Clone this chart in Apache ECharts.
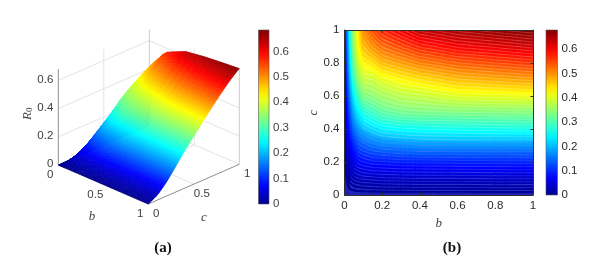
<!DOCTYPE html>
<html><head><meta charset="utf-8">
<style>html,body{margin:0;padding:0;background:#fff}#c{width:601px;height:266px}</style>
<script src="https://cdn.jsdelivr.net/npm/echarts@6/dist/echarts.min.js"></script>
</head><body><div id="c"></div>
<script>
// values: R0 at (b, c)
const bValues=[0,.01,.02,.03,.05,.07,.1,.15,.2,.3,.4,.6,.8,1];
const cValues=[0,.1,.2,.3,.4,.5,.6,.7,.8,.9,1];
const rowC00=[0,0,0,0,0,0,0,0,0,0,0,0,0,0];
const rowC01=[0,.006,.012,.018,.024,.027,.03,.032,.034,.035,.036,.036,.037,.037];
const rowC02=[0,.015,.027,.04,.06,.072,.08,.088,.09,.095,.096,.098,.099,.10];
const rowC03=[0,.025,.047,.07,.10,.125,.14,.155,.165,.172,.178,.18,.18,.18];
const rowC04=[0,.037,.07,.10,.15,.18,.205,.225,.24,.25,.255,.26,.263,.265];
const rowC05=[0,.048,.09,.13,.195,.235,.27,.29,.31,.325,.33,.335,.338,.34];
const rowC06=[0,.06,.11,.16,.24,.29,.335,.345,.36,.378,.385,.405,.41,.415];
const rowC07=[0,.07,.13,.19,.285,.34,.385,.39,.41,.43,.445,.47,.48,.49];
const rowC08=[0,.08,.15,.215,.32,.38,.43,.445,.47,.49,.51,.535,.548,.56];
const rowC09=[0,.09,.165,.235,.345,.41,.47,.50,.525,.55,.575,.60,.612,.625];
const rowC10=[0,.10,.18,.25,.355,.43,.50,.545,.575,.605,.635,.655,.668,.68];
const zRows=[rowC00,rowC01,rowC02,rowC03,rowC04,rowC05,rowC06,rowC07,rowC08,rowC09,rowC10];
const zTicks3d=[0,.2,.4,.6], bTicks3d=[0,.5,1], cTicks3d=[0,.5,1];
const barMaxA=.684, barMaxB=.679;
const stripeStepC=.018;

const jetStops=[[0,[0,0,143]],[.11,[0,0,255]],[.365,[0,255,255]],[.625,[255,255,0]],[.875,[255,0,0]],[1,[128,0,0]]];
function jetRGB(t){t=Math.max(0,Math.min(1,t));
  for(let i=1;i<jetStops.length;i++){if(t<=jetStops[i][0]){const a=jetStops[i-1],b=jetStops[i],f=(t-a[0])/(b[0]-a[0]);
    return a[1].map((v,k)=>Math.round(v+(b[1][k]-v)*f));}}
  return [128,0,0];}
const zColor=z=>'rgb('+jetRGB(z/.68).join(',')+')';
const paleTarget=[90,110,255];
const zPale=z=>{const m=z<.2?.3:.18,t=z<.2?paleTarget:[255,255,255];return 'rgb('+jetRGB(z/.68).map((v,k)=>Math.round(v+(t[k]-v)*m)).join(',')+')';};
function colAt(i,v){const n=cValues.length-1,j=Math.min(Math.floor(v),n-1),t=v-j;
  const p1=zRows[j][i],p2=zRows[j+1][i],p0=j>0?zRows[j-1][i]:2*p1-p2,p3=j<n-1?zRows[j+2][i]:2*p2-p1;
  return Math.max(0,.5*(2*p1+(p2-p0)*t+(2*p0-5*p1+4*p2-p3)*t*t+(3*p1-p0-3*p2+p3)*t*t*t));}
function zAt(u,v){const i=Math.min(Math.floor(u),bValues.length-2),f=u-i;return (1-f)*colAt(i,v)+f*colAt(i+1,v);}
function bAt(u){const i=Math.min(Math.floor(u),bValues.length-2);return bValues[i]+(u-i)*(bValues[i+1]-bValues[i]);}
function cAt(v){const j=Math.min(Math.floor(v),cValues.length-2);return cValues[j]+(v-j)*(cValues[j+1]-cValues[j]);}
// 3D view
function proj(b,c,z){return [0.3+90*b+91*c,137+39*b-39.7*c-141*z];}

// surface patches, far to near
const surfaceCells=[];const SU=3,SV=8;
for(let i=0;i<(bValues.length-1)*SU;i++)for(let j=(cValues.length-1)*SV-1;j>=0;j--)surfaceCells.push([i/SU,j/SV,(i+1)/SU,(j+1)/SV]);
// contour levels: evenly spaced along the b = 1 edge, as the stripes are in the picture
const levels=[];for(let c=stripeStepC;c<1;c+=stripeStepC)levels.push(zAt(bValues.length-1,c*(cValues.length-1)));
function segs(L){const out=[];const S=4;
  const nu=(bValues.length-1)*S,nv=(cValues.length-1)*S;
  for(let i=0;i<nu;i++)for(let j=0;j<nv;j++){
    const u0=i/S,u1=(i+1)/S,v0=j/S,v1=(j+1)/S;
    const c=[[u0,v0],[u1,v0],[u1,v1],[u0,v1]].map(p=>[bAt(p[0]),cAt(p[1]),zAt(p[0],p[1])]);
    const pts=[];
    for(let e=0;e<4;e++){const a=c[e],d=c[(e+1)%4];
      if((a[2]<L)!==(d[2]<L)){const f=(L-a[2])/(d[2]-a[2]);pts.push([a[0]+f*(d[0]-a[0]),a[1]+f*(d[1]-a[1])]);}}
    if(pts.length>=2)out.push([pts[0],pts[1]]);
    if(pts.length===4)out.push([pts[2],pts[3]]);
  }
  return out;}

// wire frame of the 3D box
const wire=[];
const W=(a,b,col,w)=>wire.push({a,b,col,w});
const G='#e4e4e4';
[.2,.4,.6].forEach(z=>{W([0,0,z],[0,1,z],G,1);W([0,1,z],[1,1,z],G,1);});
W([0,.5,0],[0,.5,.68],G,1);W([.5,1,0],[.5,1,.68],G,1);
W([0,.5,0],[1,.5,0],G,1);W([.5,0,0],[.5,1,0],G,1);
W([0,1,0],[0,0,0],G,1);W([0,1,0],[1,1,0],G,1);
W([0,1,0],[0,1,.68],'#cccccc',1);W([1,1,0],[1,1,.68],'#cccccc',1);
W([0,0,0],[0,0,.68],'#909090',1);W([1,0,0],[1,1,0],'#909090',1);W([0,0,0],[1,0,0],'#909090',1);

const texts=[];
zTicks3d.forEach(z=>{const p=proj(0,0,z);texts.push({x:p[0]-5,y:p[1]-1,t:String(z),a:'right'});});
bTicks3d.forEach(b=>{const p=proj(b,0,0);texts.push({x:p[0]-8,y:p[1]+10,t:String(b),a:'center'});});
cTicks3d.forEach(c=>{const p=proj(1,c,0);texts.push({x:p[0]+8,y:p[1]+10,t:String(c),a:'center'});});

const tickFont='Liberation Sans';
const A={left:58,top:28,w:182,h:177};
const serif={fontFamily:'Liberation Serif',fontStyle:'italic',fontSize:13,color:'#444'};
function sideAxis(idx,pos,max,show,interval){return {gridIndex:idx,type:'value',position:pos,min:0,max,interval,z:5,
  axisLine:{show:true,onZero:false,lineStyle:{color:'#303030',width:1}},
  axisTick:{show:true,inside:true,length:2.5,lineStyle:{color:'#303030'}},
  splitLine:{show:false},
  axisLabel:{show,fontFamily:tickFont,fontSize:11.5,color:'#2a2a2a',margin:5,showMaxLabel:true,formatter:v=>String(v)}};}

const option={animation:false,backgroundColor:'#fff',
 grid:[
  {left:A.left,top:A.top,width:A.w,height:A.h},
  {left:258.5,top:30,width:10.5,height:174},
  {left:344.5,top:30,width:188.5,height:165},
  {left:546,top:30,width:11.5,height:165}],
 xAxis:[
  {gridIndex:0,type:'value',min:0,max:A.w,show:false},
  {gridIndex:1,type:'value',min:0,max:1,show:false},
  Object.assign(sideAxis(2,'bottom',1,true,.2),{name:'b',nameLocation:'middle',nameGap:17,nameTextStyle:serif}),
  sideAxis(2,'top',1,false,.2),
  {gridIndex:3,type:'value',min:0,max:1,show:false}],
 yAxis:[
  {gridIndex:0,type:'value',min:0,max:A.h,inverse:true,show:false},
  Object.assign(sideAxis(1,'right',barMaxA,true,.1),{axisLabel:{fontFamily:tickFont,fontSize:11.5,color:'#404040',margin:4,formatter:v=>v>.65?'':String(v)},axisLine:{show:false},axisTick:{show:false}}),
  Object.assign(sideAxis(2,'left',1,true,.2),{name:'c',nameLocation:'middle',nameGap:22,nameRotate:90,nameTextStyle:serif}),
  sideAxis(2,'right',1,false,.2),
  Object.assign(sideAxis(3,'right',barMaxB,true,.1),{axisLabel:{fontFamily:tickFont,fontSize:11.5,color:'#2a2a2a',margin:4,formatter:v=>v>.65?'':String(v)},axisLine:{show:false},axisTick:{show:false}})],
 title:[
  {text:'(a)',left:163,top:241,textAlign:'center',textStyle:{fontFamily:'Liberation Serif',fontWeight:'bold',fontSize:15,color:'#111'},padding:0},
  {text:'(b)',left:452,top:241,textAlign:'center',textStyle:{fontFamily:'Liberation Serif',fontWeight:'bold',fontSize:15,color:'#111'},padding:0}],
 graphic:[
  {type:'text',x:21,y:120,rotation:Math.PI/2,z:10,style:{text:'{i|R}{s|0}',rich:{i:{fontFamily:'Liberation Serif',fontStyle:'italic',fontSize:13,fill:'#444'},s:{fontFamily:'Liberation Serif',fontSize:9,fill:'#444',padding:[4,0,0,0]}}}},
  {type:'text',x:92,y:217,z:10,style:{text:'b',textAlign:'center',textVerticalAlign:'middle',fontFamily:'Liberation Serif',fontStyle:'italic',fontSize:13,fill:'#444'}},
  {type:'text',x:204,y:218,z:10,style:{text:'c',textAlign:'center',textVerticalAlign:'middle',fontFamily:'Liberation Serif',fontStyle:'italic',fontSize:13,fill:'#444'}}],
 series:[
  {type:'custom',name:'box',coordinateSystem:'cartesian2d',xAxisIndex:0,yAxisIndex:0,z:1,silent:true,clip:false,progressive:0,
   data:wire.map((_,i)=>[i]),
   renderItem(p,api){const s=wire[p.dataIndex],a=api.coord(proj(...s.a)),b=api.coord(proj(...s.b));
     return {type:'line',shape:{x1:a[0],y1:a[1],x2:b[0],y2:b[1]},style:{stroke:s.col,lineWidth:s.w}};}},
  {type:'custom',name:'surface',coordinateSystem:'cartesian2d',xAxisIndex:0,yAxisIndex:0,z:2,silent:true,clip:false,progressive:0,
   dimensions:['u0','v0','u1','v1'],encode:{x:0,y:1},data:surfaceCells,
   renderItem(p,api){const u0=api.value(0),v0=api.value(1),u1=api.value(2),v1=api.value(3);
     const q=[[u0,v0],[u1,v0],[u1,v1],[u0,v1]];let sum=0;
     const pts=q.map(t=>{const z=zAt(t[0],t[1]);sum+=z;return api.coord(proj(bAt(t[0]),cAt(t[1]),z));});
     const col=zColor(sum/4);
     return {type:'polygon',shape:{points:pts},style:{fill:col,stroke:col,lineWidth:.6}};}},
  {type:'custom',name:'labels3d',coordinateSystem:'cartesian2d',xAxisIndex:0,yAxisIndex:0,z:3,silent:true,clip:false,progressive:0,
   data:texts.map((_,i)=>[i]),
   renderItem(p,api){const t=texts[p.dataIndex],c=api.coord([t.x,t.y]);
     return {type:'text',x:c[0],y:c[1],style:{text:t.t,textAlign:t.a,textVerticalAlign:'middle',fontFamily:tickFont,fontSize:11.5,fill:'#404040'}};}},
  {type:'custom',name:'barA',coordinateSystem:'cartesian2d',xAxisIndex:1,yAxisIndex:1,z:1,silent:true,progressive:0,
   data:[[0]],renderItem(p,api){const s=api.coord([0,0]),e=api.coord([1,barMaxA]);
     return barRect(s,e,barMaxA);}},
  {type:'custom',name:'contourFill',coordinateSystem:'cartesian2d',xAxisIndex:2,yAxisIndex:2,z:1,silent:true,clip:true,progressive:0,
   dimensions:['u0','v0','u1','v1'],encode:{x:0,y:1},data:surfaceCells,
   renderItem(p,api){const u0=api.value(0),v0=api.value(1),u1=api.value(2),v1=api.value(3);
     const a=api.coord([bAt(u0),cAt(v1)]),b=api.coord([bAt(u1),cAt(v0)]);
     const col=zPale((zAt(u0,v0)+zAt(u1,v0)+zAt(u1,v1)+zAt(u0,v1))/4);
     return {type:'rect',shape:{x:a[0],y:a[1],width:b[0]-a[0],height:b[1]-a[1]},style:{fill:col,stroke:col,lineWidth:.5}};}},
  {type:'custom',name:'contours',coordinateSystem:'cartesian2d',xAxisIndex:2,yAxisIndex:2,z:2,silent:true,clip:true,progressive:0,
   data:levels.map(l=>[l]),
   renderItem(p,api){const L=levels[p.dataIndex],col=zColor(L);
     return {type:'group',children:segs(L).map(s=>{const a=api.coord(s[0]),b=api.coord(s[1]);
       return {type:'line',shape:{x1:a[0],y1:a[1],x2:b[0],y2:b[1]},style:{stroke:col,lineWidth:1.9,lineCap:'round'}};})};}},
  {type:'custom',name:'barB',coordinateSystem:'cartesian2d',xAxisIndex:4,yAxisIndex:4,z:1,silent:true,progressive:0,
   data:[[0]],renderItem(p,api){const s=api.coord([0,0]),e=api.coord([1,barMaxB]);
     return barRect(s,e,barMaxB);}}
 ]};
function barRect(s,e,max){const stops=[];for(let i=0;i<=20;i++){const t=i/20;stops.push({offset:1-t,color:zColor(t*max)});}
  stops.reverse();
  return {type:'rect',shape:{x:s[0],y:e[1],width:e[0]-s[0],height:s[1]-e[1]},
    style:{fill:new echarts.graphic.LinearGradient(0,0,0,1,stops),stroke:'#555',lineWidth:.6}};}
const chart=echarts.init(document.getElementById('c'),null,{renderer:'canvas',width:601,height:266});
chart.setOption(option);
</script></body></html>
